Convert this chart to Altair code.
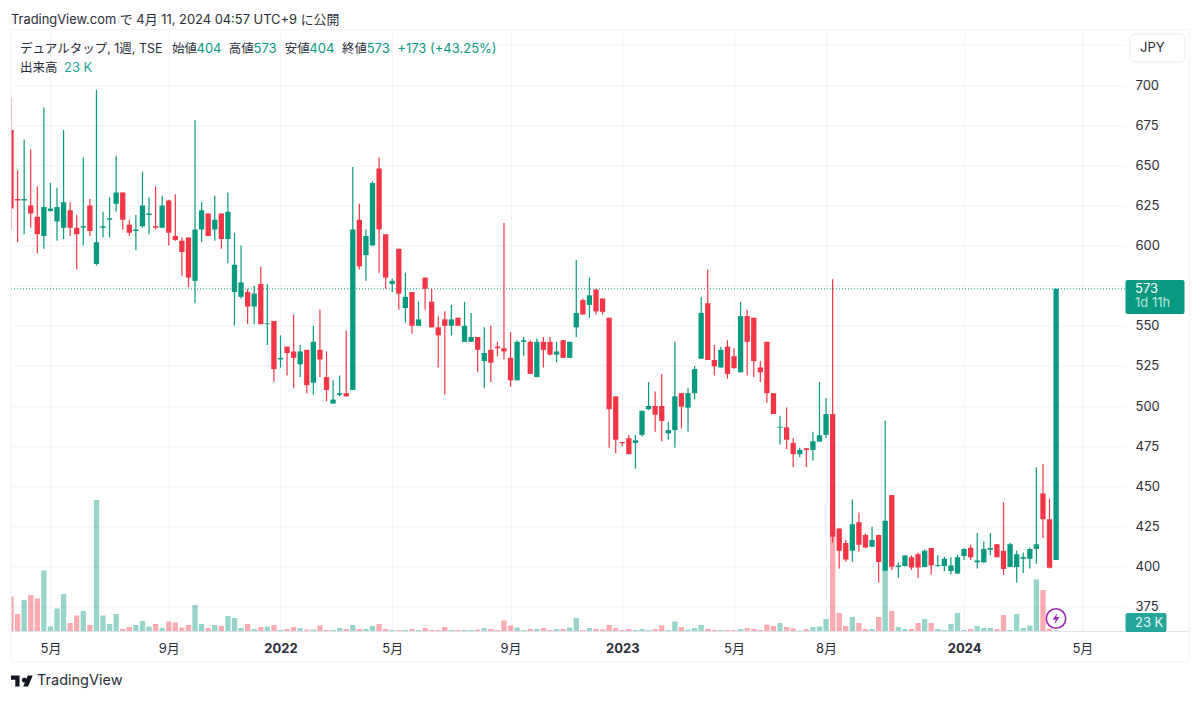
import altair as alt
import pandas as pd

opens = [672,629,628,625,618,606,621.5,615,611,622, 611,611,625,588.5,611,616,626,633,613,609,
 612,619,612,611,628,606,603,605,578,610, 620,610,620,604,571,568,571,562,576,551,
 553,529,537,534,526,535,514.5,535,518,501.5, 507,508,510,616,594,600,648,607,576,598,
 561,571,550,580,565,549,554,550,555,540, 540,543,528,535,537,536,530,516,540,540,
 518,540,540,532,541,530,549,566,563,572.6, 567,555,506,477.6,480,477,482,498,500,500,
 483,485,508,499,508,529.5,564,528.7,524,537, 531,521,556,555,524,540,508,486.5,486.7,477,
 470,473.7,472.6,477.8,482,495,423.7,414.6,409.8,427.5, 419.6,412.3,419.6,397.4,444.5,399.7,400.3,405.7,407.7,399.7,
 411.5,400.3,400.3,397.2,395.7,406.5,411.7,402.6,402.6,410.4, 413.8,409.8,399.7,399.7,404.8,404.8,410.9,445.5,429.5,404]
highs = [692,647,666,660,637,686,639,636,672,627, 619,655,629,697,621,630,656,633,616,619,
 646,630,637,631,628.5,632,605,605,678,627, 620,631,620,633,608,600,573,575,587,576,
 553,544,537,557,538,535,550,560,534,516, 519,547,649,626,610,640,655,607,579.5,598,
 583,571,565,580,573,556,559,563,555,565, 558,543,549,550,540,614,546,541,543,541,
 542,543,543,540,541,540,591,567,580,573, 567,555,506,477.6,482,482,497,515,509,520,
 490,540,508,511,525,568,585,538,537,541, 536,565,560,555,528,540,508,494,499,480,
 474,473.7,484,515,505,579,423.7,416.5,441.8,433.7, 420.6,424.8,420,490.8,444.5,402.6,407,407,408.6,410.6,
 411.7,407,406,405.7,407.3,411.5,413.6,420.8,415.6,420.8, 414,440,414.8,409.8,408.8,411.9,461.8,463.8,442.4,573]
lows = [610,602,607,611,595,598,621,603,604,606, 585,600,606,587.5,605,605,621,610,606,597,
 611,607,610,611,600,603,581,574,564,602, 606,603,598,589,550,567,551,551,551,538,
 515,524,519,511,518,508,507,518,503,501.5, 506,506,510,585,578,600,583,573,571,560,
 552,545,550,560,549,524,507,544,550,540, 540,521,511,515,531,529,512,516,531,520,
 518,524,531.5,527,530,530,543,557,555,557, 557,474,470.5,475,470,461,481,497.5,484,478,
 479,474,486,484,504,529.5,528.7,519,524,517, 523,521,519,518,515,502,495,476,473,462,
 468,462,466,477.8,480,415,398.8,403,403,409.2, 411.3,412.3,390,397.4,397.8,393,400,397.8,393,399.6,
 395,399.9,397,395,395.3,404,404,398.8,402.3,407, 405.7,394.9,399.6,390,396,398.8,401.7,417.7,398.8,404]
closes = [623,628,629,620,607,624,623,624,627,611, 607,612,609,602,612,617,633,616,608,610,
 625,620,611,625,608,603.5,596,580,610,622, 606,616,604,621,588,577,562,570,551,551.5,
 523,530,533,530,534,513,540,529,510,504, 508,506,610,587,606,639,610,580,578,570,
 568,550,554,573,549,544,550,554,550,550, 543,535,533,527,536,534,516,540,541,520,
 540,535,532,534,530,540,558,557,569,559, 558.7,498,479,476.8,470,478.6,497,500,494.6,490.7,
 485,506,499.6,508,523,558,528.7,524.7,535,520, 523.7,556,540,528,521,508,495,487,479,470,
 472.6,472.6,478,481.8,495,418.5,409.8,404.4,426.4,413.6, 411.9,416.5,402.8,428.5,399.9,400.7,406.9,399.4,399.4,409.8,
 400.7,401,404.8,400.7,405.7,410.9,405.7,403.8,410.9,411.5, 405.7,398.4,413.8,407.7,405.9,410.9,413.8,429.5,399.2,573]
volumes_k = [700,350,630,730,660,1220,100,460,750,170, 320,410,130,2630,320,150,350,50,90,130,
 210,100,150,70,200,180,80,130,530,150, 70,130,110,310,270,70,150,50,90,100,
 130,30,50,90,70,40,40,120,30,30, 70,50,130,50,50,110,150,50,30,30,
 30,50,30,70,30,30,90,30,30,30, 30,40,70,50,30,220,120,80,30,50,
 50,70,30,50,50,80,270,30,70,50, 40,130,70,30,50,30,50,30,50,120,
 30,200,90,40,70,130,50,30,30,30, 30,50,70,50,30,140,110,170,90,60,
 20,50,90,100,250,2000,370,110,290,170, 50,50,290,1240,410,90,50,50,170,250,
 170,50,30,150,370,30,50,110,70,70, 50,330,30,350,70,120,1040,830,60,23]
week_ticks = [6,24,41,58,76,93,110,124,145,163]
week_labels = ['5月','9月','2022','5月','9月','2023','5月','8月','2024','5月']
bold_ticks = [41,93,145]
price_ticks = [375,400,425,450,475,500,525,550,575,600,625,650,675,700,725]
last_price = [573]

GREEN, RED = '#089981', '#f23645'
FONT = 'Inter, Noto Sans CJK JP, sans-serif'
TXT = '#2a2e39'
LINE = '#f2f3f6'
W, H = 1114, 602
XOFF, YOFF = 11, 29.5

df = pd.DataFrame({'i': range(len(opens)), 'o': opens, 'h': highs, 'l': lows, 'c': closes, 'v': volumes_k})
df['dir'] = ['up' if c >= o else 'down' for o, c in zip(opens, closes)]

xs = alt.Scale(domain=[0, W / 6.573], nice=False, zero=False, padding=0)
ys = alt.Scale(domain=[359.5, 734.6], nice=False, zero=False)
vs = alt.Scale(domain=[0, 12040], nice=False, zero=True)
cs = alt.Scale(domain=['up', 'down'], range=[GREEN, RED])

names = str(week_labels)
x_axis = alt.Axis(values=week_ticks, title=None, domain=False, ticks=False, grid=True, gridColor=LINE,
                  labelExpr=f"{names}[indexof({week_ticks}, datum.value)]", labelOverlap=False,
                  labelFont=FONT, labelFontSize=13, labelColor=TXT, labelPadding=11,
                  labelFontWeight=alt.expr(f"indexof({bold_ticks}, datum.value) >= 0 ? 700 : 400"))
y_axis = alt.Axis(values=price_ticks, title=None, orient='right', domain=False, ticks=False, grid=True,
                  gridColor=LINE, labelExpr="datum.value == 725 || datum.value == 575 ? '' : datum.label",
                  labelFont=FONT, labelFontSize=13, labelColor=TXT, labelPadding=10, labelOverlap=False)
X = alt.X('i:Q', scale=xs, axis=x_axis)

vol = alt.Chart(df).mark_bar(size=5.3, opacity=0.42, clip=True).encode(
    x=X, y=alt.Y('v:Q', scale=vs, axis=None),
    color=alt.Color('dir:N', scale=cs, legend=None))
wick = alt.Chart(df).mark_rule(strokeWidth=1.2, clip=True).encode(
    x=X, y=alt.Y('h:Q', scale=ys, axis=y_axis), y2='l:Q',
    color=alt.Color('dir:N', scale=cs, legend=None))
body = alt.Chart(df).mark_bar(size=5.3, clip=True).encode(
    x=X, y=alt.Y('o:Q', scale=ys, axis=None), y2='c:Q',
    color=alt.Color('dir:N', scale=cs, legend=None))
last = alt.Chart(pd.DataFrame({'p': last_price})).mark_rule(color=GREEN, strokeWidth=1, strokeDash=[1, 2]).encode(
    y=alt.Y('p:Q', scale=ys, axis=None), x=alt.value(0), x2=alt.value(W))


def one(t=''):
    return alt.Chart(pd.DataFrame({'t': [t]}))


def label(t, x, y, color=TXT, size=13, align='left', weight=400):
    return one(t).mark_text(align=align, baseline='middle', font=FONT, fontSize=size, color=color,
                            fontWeight=weight).encode(
        x=alt.value(x - XOFF), y=alt.value(y - YOFF), text='t:N')


def box(x1, y1, x2, y2, **kw):
    return one().mark_rect(**kw).encode(
        x=alt.value(x1 - XOFF), x2=alt.value(x2 - XOFF), y=alt.value(y1 - YOFF), y2=alt.value(y2 - YOFF))


def border(x1, y1, x2, y2):
    return one().mark_rule(color=LINE, strokeWidth=1).encode(
        x=alt.value(x1 - XOFF), x2=alt.value(x2 - XOFF), y=alt.value(y1 - YOFF), y2=alt.value(y2 - YOFF))


borders = [border(11, 29.5, 1189, 29.5), border(11, 29.5, 11, 662), border(1189, 29.5, 1189, 662),
           border(11, 662, 1189, 662), one().mark_rule(color='#e0e3eb', strokeWidth=1).encode(
               x=alt.value(0), x2=alt.value(1178), y=alt.value(602), y2=alt.value(602))]

texts = [
    label('TradingView.com で 4月 11, 2024 04:57 UTC+9 に公開', 11, 20, size=12.9),
    label('デュアルタップ, 1週, TSE', 20, 49, size=12.5),
    label('始値', 172, 49, size=12.5), label('404', 196.5, 49, GREEN),
    label('高値', 228.7, 49, size=12.5), label('573', 253.5, 49, GREEN),
    label('安値', 284.7, 49, size=12.5), label('404', 309.3, 49, GREEN),
    label('終値', 342, 49, size=12.5), label('573', 366.7, 49, GREEN),
    label('+173 (+43.25%)', 397.3, 49, GREEN),
    label('出来高', 20, 68, size=12.5), label('23 K', 64, 68, '#26a69a'),
    label('JPY', 1140, 48, size=13),
    label('573', 1135, 289, '#ffffff'), label('1d 11h', 1135, 303, '#b8e6dc'),
    label('23 K', 1135, 622.5, '#e8f7f4'),
    label('TradingView', 37, 681, '#2a2e39', size=14.5),
]
tags = [
    box(1130, 34, 1185, 62, fill='#ffffff', stroke='#e8ebf2', strokeWidth=1, cornerRadius=6),
    box(1125.5, 280, 1184.5, 314, fill=GREEN, cornerRadius=2),
    box(1125.5, 613, 1166.5, 632, fill='#26a69a', cornerRadius=2),
]
circle = one().mark_point(shape='circle', filled=True, fill='#ffffff', stroke='#9c27b0', strokeWidth=1.6,
                          opacity=1, size=380).encode(x=alt.value(1056 - XOFF), y=alt.value(618.5 - YOFF))
bolt = one().mark_point(shape='M0.25,-1 L-0.6,0.2 L-0.05,0.2 L-0.25,1 L0.6,-0.25 L0.05,-0.25 Z', filled=True,
                        fill='#9c27b0', strokeWidth=0, opacity=1, size=130).encode(
    x=alt.value(1056 - XOFF), y=alt.value(618.5 - YOFF))
logo = one().mark_point(
    shape='M-0.222,0.5 L-0.611,0.5 L-0.611,-0.111 L-1,-0.111 L-1,-0.5 L-0.222,-0.5 Z '
          'M0.556,0.5 L0.111,0.5 L0.528,-0.5 L0.972,-0.5 Z '
          'M0.111,-0.278 A0.222,0.222 0 1 1 0.109,-0.277 Z',
    filled=True, fill='#131722', strokeWidth=0, opacity=1, size=484).encode(
    x=alt.value(22 - XOFF), y=alt.value(681 - YOFF))

chart = alt.layer(vol, last, wick, body, *borders, *tags, *texts, circle, bolt, logo).resolve_scale(
    y='independent'
).properties(
    width=W, height=H,
    padding={'left': 3, 'top': 21.5, 'right': 67, 'bottom': 62},
    autosize=alt.AutoSizeParams(type='none'),
    background='#ffffff',
).configure_view(stroke=None)

chart.save("out.html", embed_options={"renderer": "svg", "actions": False})
